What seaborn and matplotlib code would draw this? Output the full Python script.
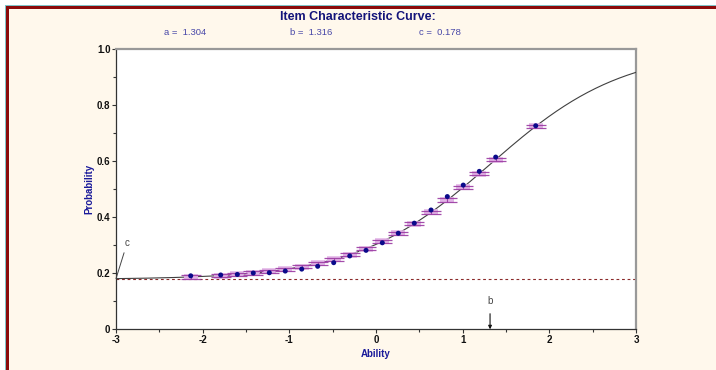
import numpy as np
import pandas as pd
import matplotlib
matplotlib.use("Agg")
import matplotlib.pyplot as plt
from matplotlib.patches import Rectangle
import seaborn as sns

# 3PL item parameters
a_param = 1.304
b_param = 1.316
c_param = 0.178

# ability groups and observed proportions correct
theta_groups = [-2.138, -1.792, -1.600, -1.416, -1.231, -1.047, -0.857, -0.673,
                -0.488, -0.303, -0.115, 0.073, 0.257, 0.442, 0.635, 0.823,
                1.007, 1.192, 1.381, 1.843]
observed_p = [0.191, 0.194, 0.196, 0.201, 0.202, 0.208, 0.215, 0.225,
              0.238, 0.262, 0.282, 0.309, 0.343, 0.379, 0.426, 0.474,
              0.515, 0.564, 0.615, 0.727]

x_ticks = [-3, -2, -1, 0, 1, 2, 3]
x_tick_labels = ["-3", "-2", "-1", "0", "1", "2", "3"]
y_ticks = [0, 0.2, 0.4, 0.6, 0.8, 1.0]
y_tick_labels = ["0", "0.2", "0.4", "0.6", "0.8", "1.0"]


def icc(theta):
    theta = np.asarray(theta, dtype=float)
    return c_param + (1 - c_param) / (1 + np.exp(-a_param * (theta - b_param)))


sns.set_theme(style="white")
plt.rcParams["font.family"] = ["Liberation Sans", "DejaVu Sans"]

W, H = 716, 370
fig = plt.figure(figsize=(W / 100, H / 100), dpi=100)
fig.patch.set_facecolor("white")

# window frame: teal edge, dark red band, cream panel
fig.patches.append(Rectangle((5 / W, -1), 2, 1 + (H - 5) / H, transform=fig.transFigure,
                             facecolor="#7fc4c8", edgecolor="none", zorder=-3))
fig.patches.append(Rectangle((6 / W, -1), 2, 1 + (H - 6) / H, transform=fig.transFigure,
                             facecolor="#8b0a0a", edgecolor="none", zorder=-2))
fig.patches.append(Rectangle((9 / W, -1), 2, 1 + (H - 9) / H, transform=fig.transFigure,
                             facecolor="#fff8ec", edgecolor="none", zorder=-1))

ax = fig.add_axes([116 / W, 1 - 329.3 / H, 520 / W, 280 / H])
ax.set_facecolor("white")

grid = np.linspace(-3, 3, 400)
curve_df = pd.DataFrame({"Ability": grid, "Probability": icc(grid)})
sns.lineplot(data=curve_df, x="Ability", y="Probability", color="#404040",
             linewidth=0.8, ax=ax, zorder=3)

# lower asymptote
ax.axhline(c_param, color="#8b2a2a", linestyle=(0, (2.5, 2.5)), linewidth=0.8, zorder=2)

# expected values at each group (model)
expected = icc(theta_groups)
ax.scatter(theta_groups, expected, marker="_", s=110, color="#e2b4e6",
           linewidths=4, zorder=3.2)
ax.errorbar(theta_groups, expected, yerr=0.006, fmt="none", ecolor="#9a3aa2",
            elinewidth=0.8, capsize=7.5, capthick=0.9, alpha=0.9, zorder=4)

obs_df = pd.DataFrame({"Ability": theta_groups, "Probability": observed_p})
sns.scatterplot(data=obs_df, x="Ability", y="Probability", color="#0a0a8a",
                s=13, edgecolor="none", ax=ax, zorder=5)

ax.set_xlim(-3, 3)
ax.set_ylim(0, 1)
ax.set_xticks(x_ticks)
ax.set_xticklabels(x_tick_labels, fontsize=7, fontweight="bold")
ax.set_xticks(np.arange(-2.5, 3, 1.0), minor=True)
ax.set_yticks(y_ticks)
ax.set_yticklabels(y_tick_labels, fontsize=7, fontweight="bold")
ax.set_yticks(np.arange(0.1, 1.0, 0.2), minor=True)
ax.tick_params(axis="both", which="both", direction="out", length=3, width=0.8,
               color="#333333", pad=1, labelcolor="#111111")
ax.tick_params(axis="both", which="major", bottom=True, left=True)
ax.tick_params(axis="both", which="minor", bottom=True, left=True, length=2.5)

for side in ["left", "bottom"]:
    ax.spines[side].set_color("#333333")
    ax.spines[side].set_linewidth(0.9)
for side in ["top", "right"]:
    ax.spines[side].set_color("#999999")
    ax.spines[side].set_linewidth(1.6)

ax.set_xlabel("Ability", fontsize=7, fontweight="bold", color="#1a1a9a", labelpad=3)
ax.set_ylabel("Probability", fontsize=7, fontweight="bold", color="#1a1a9a", labelpad=2)

# annotations for c and b
ax.annotate("c", xy=(-3, icc(-3)), xytext=(-2.87, 0.31), fontsize=7, color="#444444",
            ha="center", va="center",
            arrowprops=dict(arrowstyle="-", color="#444444", lw=0.7, shrinkA=1.5, shrinkB=0))
ax.annotate("b", xy=(b_param, 0), xytext=(b_param, 0.10), fontsize=7, color="#444444",
            ha="center", va="center",
            arrowprops=dict(arrowstyle="-|>", color="#111111", lw=0.8, shrinkA=3, shrinkB=0,
                            mutation_scale=5))

fig.text(358 / W, 1 - 19.5 / H, "Item Characteristic Curve:", fontsize=9, fontweight="bold",
         color="#14147a", ha="center", va="baseline", zorder=10)
fig.text(185 / W, 1 - 32.5 / H, "a =  %.3f" % a_param, fontsize=6.8, color="#4848a8",
         ha="center", va="center")
fig.text(311 / W, 1 - 32.5 / H, "b =  %.3f" % b_param, fontsize=6.8, color="#4848a8",
         ha="center", va="center")
fig.text(440 / W, 1 - 32.5 / H, "c =  %.3f" % c_param, fontsize=6.8, color="#4848a8",
         ha="center", va="center")

fig.savefig("out.png", dpi=100)
